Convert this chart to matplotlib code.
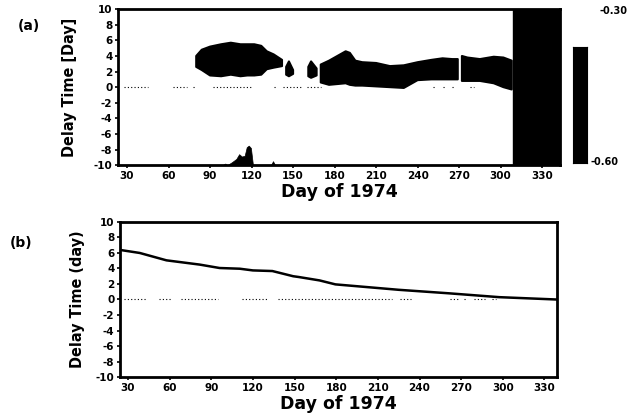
import numpy as np
import matplotlib
matplotlib.use('Agg')
import matplotlib.pyplot as plt

plt.rcParams['font.family'] = ['DejaVu Sans']
plt.rcParams['font.weight'] = 'bold'
plt.rcParams['axes.unicode_minus'] = False

nan = np.nan

# panel (a): envelope of the dense delay-time scatter
blob_days = [80, 84, 90, 98, 105, 112, 117, 122, 127, 131, 136, 142, nan,
             145, 147, 150, nan,
             161, 163, 167, nan,
             170, 176, 182, 188, 191, 195, 200, 210, 220, 230, 240, 250, 258, 265, 269, nan,
             272, 276, 285, 295, 302, 308]
blob_upper = [4.0, 4.8, 5.2, 5.5, 5.7, 5.5, 5.5, 5.5, 5.3, 4.6, 4.2, 3.5, nan,
              2.6, 3.3, 2.2, nan,
              2.6, 3.3, 2.4, nan,
              2.9, 3.4, 4.0, 4.6, 4.4, 3.4, 3.2, 3.1, 2.7, 2.8, 3.2, 3.5, 3.7, 3.6, 3.6, nan,
              4.0, 3.8, 3.6, 3.9, 3.8, 3.4]
blob_lower = [2.6, 2.2, 1.5, 1.4, 1.6, 1.4, 1.5, 1.5, 1.6, 2.3, 2.5, 2.7, nan,
              1.6, 1.4, 1.7, nan,
              1.4, 1.2, 1.5, nan,
              0.6, 0.3, 0.4, 0.5, 0.3, 0.2, 0.2, 0.1, 0.0, -0.1, 0.9, 1.0, 1.0, 1.0, 1.0, nan,
              0.8, 0.8, 0.8, 0.5, 0.0, -0.3]

# negative-delay cluster near the bottom of panel (a)
neg_days = [99, 101, 102.5, 106, 109, 111, 113, 115, 116.5, 118, 119.5, 121, 134, 135.5, 137]
neg_top = [-10, -9.8, -10, -9.6, -9.2, -8.6, -8.9, -8.8, -7.7, -7.5, -7.8, -10, -10, -9.5, -10]

dark_start = 309

zero_a = [(28, 45), (63, 73), (78, 80), (92, 120), (136, 138), (143, 157), (160, 170),
          (251, 253), (258, 260), (265, 267), (278, 281)]

# panel (b): smoothed delay time
curve_days = [24, 38.5, 57.7, 81.7, 96, 110.5, 120, 134, 149, 153, 168, 179.4, 225, 261, 297.5, 338.5]
curve_delay = [6.4, 6.0, 5.05, 4.5, 4.06, 3.97, 3.75, 3.67, 3.0, 2.9, 2.46, 1.95, 1.25, 0.8, 0.3, 0.0]

zero_b = [(27, 43), (52, 61), (68, 95), (112, 131), (138, 220), (226, 234), (262, 268),
          (272, 274), (279, 287), (292, 295)]

xticks = list(range(30, 331, 30))
yticks = list(range(-10, 11, 2))

fig = plt.figure(figsize=(6.38, 4.18), dpi=100)
ax_a = fig.add_axes([0.185, 0.605, 0.693, 0.373])
ax_b = fig.add_axes([0.188, 0.098, 0.685, 0.371])
cax = fig.add_axes([0.898, 0.610, 0.022, 0.278])


def style_axes(ax, xlim):
    ax.set_xlim(xlim)
    ax.set_ylim(-10, 10)
    ax.set_xticks(xticks)
    ax.set_yticks(yticks)
    ax.tick_params(labelsize=7.5, length=2, width=1.2, pad=2)
    for s in ax.spines.values():
        s.set_linewidth(2)
    ax.set_xlabel('Day of 1974', fontsize=12.5, fontweight='bold', labelpad=2)


def zero_dots(ax, segments):
    for a, b in segments:
        ax.plot([a, b], [0, 0], color='black', lw=0.8, linestyle=(0, (1, 2)))


# (a)
zero_dots(ax_a, zero_a)
ax_a.fill_between(blob_days, blob_lower, blob_upper, color='black', lw=1.5, edgecolor='black')
ax_a.fill_between(neg_days, -10, neg_top, color='black', lw=0.5)
ax_a.axvspan(dark_start, 345, color='black')
style_axes(ax_a, (23.5, 343))
ax_a.set_ylabel('Delay Time [Day]', fontsize=11.5, fontweight='bold',
                fontstretch='condensed', labelpad=12)
fig.text(0.028, 0.955, '(a)', fontsize=10, fontweight='bold', va='top')

# colour scale strip
cax.set_facecolor('black')
cax.set_xticks([])
cax.set_yticks([])
fig.text(0.94, 0.985, '-0.30', fontsize=7, fontweight='bold', va='top')
fig.text(0.925, 0.612, '-0.60', fontsize=7, fontweight='bold', va='center')

# (b)
zero_dots(ax_b, zero_b)
ax_b.plot(curve_days, curve_delay, color='black', lw=1.8)
style_axes(ax_b, (24.2, 339))
ax_b.set_ylabel('Delay Time (day)', fontsize=11.5, fontweight='bold',
                fontstretch='condensed', labelpad=8)
fig.text(0.016, 0.435, '(b)', fontsize=10, fontweight='bold', va='top')

fig.savefig('out.png', dpi=100)
